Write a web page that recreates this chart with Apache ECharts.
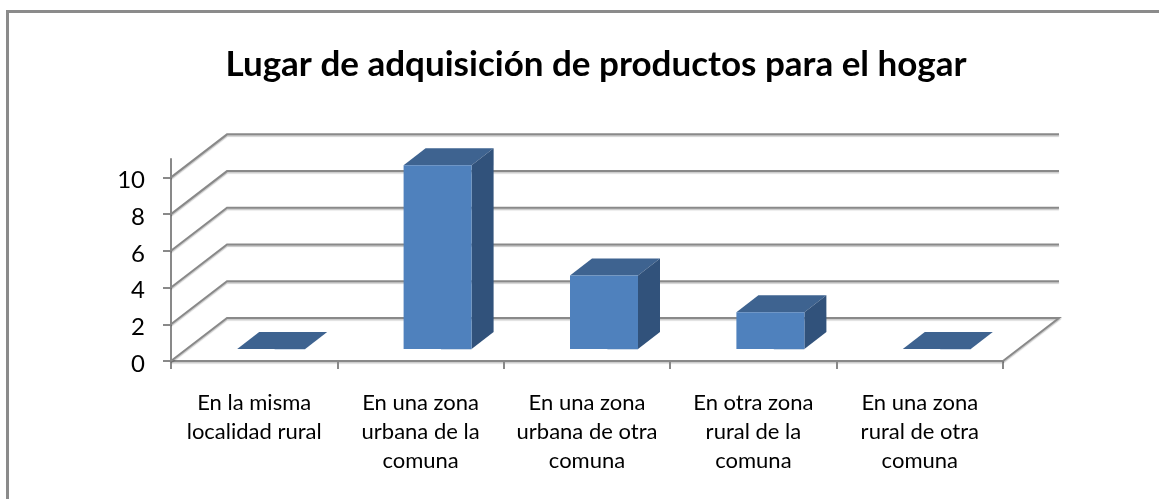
<!DOCTYPE html>
<html><head><meta charset="utf-8">
<style>html,body{margin:0;padding:0;background:#fff}#c{width:1159px;height:499px}</style>
<script src="https://cdn.jsdelivr.net/npm/echarts@6/dist/echarts.min.js"></script>
</head><body><div id="c"></div>
<script>
const categories = ["En la misma\nlocalidad rural","En una zona\nurbana de la\ncomuna","En una zona\nurbana de otra\ncomuna","En otra zona\nrural de la\ncomuna","En una zona\nrural de otra\ncomuna"];
const values = [0,10,4,2,0];
const gridValues = [0,2,4,6,8,10];
const titleText = "Lugar de adquisición de productos para el hogar";

const WALL_DX = 56, WALL_DY = -43;
const BAR_OFF_X = 17, BAR_OFF_Y = -12, BAR_W = 68, BAR_DX = 22, BAR_DY = -17;
const LINE = '#898989';
const lineShadow = {shadowColor:'rgba(0,0,0,0.22)',shadowBlur:1,shadowOffsetY:1.5};

function renderWall(params, api){
  const cs = params.coordSys;
  const y = api.coord([0, api.value(0)])[1];
  const x0 = cs.x, x1 = cs.x + cs.width;
  const pts = [[x0,y],[x0+WALL_DX,y+WALL_DY],[x1+WALL_DX,y+WALL_DY]];
  if (api.value(0) === 0) pts.push([x1,y]);
  return {type:'polyline',shape:{points:pts},
    style:Object.assign({fill:null,stroke:LINE,lineWidth:2},lineShadow)};
}
function renderBar(params, api){
  const top = api.coord([api.value(0), api.value(1)]);
  const base = api.coord([api.value(0), 0]);
  const l = top[0] + BAR_OFF_X - BAR_W/2, r = l + BAR_W;
  const t = top[1] + BAR_OFF_Y, b = base[1] + BAR_OFF_Y;
  const children = [];
  children.push({type:'polygon',shape:{points:[[l,t],[r,t],[r+BAR_DX,t+BAR_DY],[l+BAR_DX,t+BAR_DY]]},style:{fill:'#3e6390'}});
  if (b - t > 0) {
    children.push({type:'polygon',shape:{points:[[r,t],[r+BAR_DX,t+BAR_DY],[r+BAR_DX,b+BAR_DY],[r,b]]},style:{fill:'#31527b'}});
    children.push({type:'rect',shape:{x:l,y:t,width:BAR_W,height:b-t},style:{fill:'#4f81bd'}});
  }
  children.push({type:'line',shape:{x1:l+BAR_W*0.55,y1:b+0.5,x2:r,y2:b+0.5},style:{stroke:'#cfdbe9',lineWidth:1}});
  return {type:'group',children};
}

const chart = echarts.init(document.getElementById('c'),null,{renderer:'canvas'});
chart.setOption({
  animation:false,
  backgroundColor:'#fff',
  title:{text:titleText,left:591,top:42,textAlign:'center',
    textStyle:{fontFamily:'Lato',fontWeight:'bold',fontSize:35,color:'#000'}},
  graphic:[{type:'polyline',shape:{points:[[7.5,499],[7.5,11.5],[1159,11.5]]},
    style:{fill:null,stroke:'#8b8b8b',lineWidth:3},z:0}],
  grid:{left:171,right:156,top:159,bottom:138},
  xAxis:{type:'category',data:categories,
    axisLine:{lineStyle:{color:LINE,width:2,shadowColor:'rgba(0,0,0,0.22)',shadowBlur:1,shadowOffsetY:1.5}},
    axisTick:{show:true,alignWithLabel:false,length:8,lineStyle:{color:LINE,width:2}},
    axisLabel:{interval:0,color:'#000',fontFamily:'Lato',fontSize:22,lineHeight:29,margin:27,align:'center',verticalAlign:'top'},
    splitLine:{show:false}},
  yAxis:{type:'value',min:0,max:11,interval:2,
    axisLine:{show:true,lineStyle:{color:LINE,width:2}},
    axisTick:{show:true,length:8,customValues:gridValues,lineStyle:{color:LINE,width:2}},
    axisLabel:{color:'#000',fontFamily:'Lato',fontSize:24,margin:26,verticalAlign:'top',lineHeight:6,customValues:gridValues},
    splitLine:{show:false}},
  series:[
    {type:'custom',name:'wall',coordinateSystem:'cartesian2d',clip:false,z:1,
     data:gridValues.map(v=>[v]),encode:{y:0},renderItem:renderWall,silent:true},
    {type:'custom',name:'Lugar',coordinateSystem:'cartesian2d',clip:false,z:3,
     data:values.map((v,i)=>[i,v]),encode:{x:0,y:1},renderItem:renderBar}
  ]
});
</script></body></html>
